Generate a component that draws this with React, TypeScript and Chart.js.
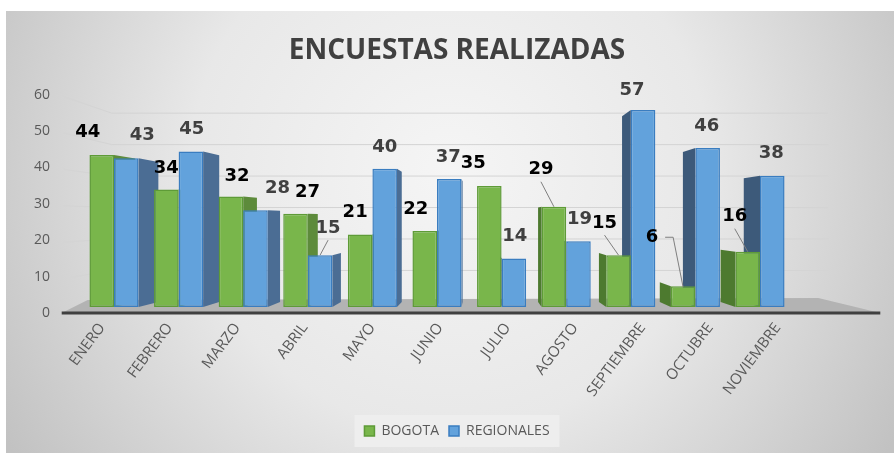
import React, { useEffect, useRef } from "react";
import { Chart, registerables } from "chart.js";

Chart.register(...registerables);

const categories = ["ENERO", "FEBRERO", "MARZO", "ABRIL", "MAYO", "JUNIO", "JULIO", "AGOSTO", "SEPTIEMBRE", "OCTUBRE", "NOVIEMBRE"];
const bogota = [44, 34, 32, 27, 21, 22, 35, 29, 15, 6, 16];
const regionales = [43, 45, 28, 15, 40, 37, 14, 19, 57, 46, 38];
const yTicks = [0, 10, 20, 30, 40, 50, 60];
const seriesNames = ["BOGOTA", "REGIONALES"];
const chartTitle = "ENCUESTAS REALIZADAS";

// data-label placement relative to each bar's top centre (dx, dy)
const bogotaLabelOffsets = [[-14, -23], [0, -21], [6, -20], [12, -21], [-5, -22], [-9, -22], [-16, -23], [-13, -37], [-14, -32], [-31, -49], [-13, -35]];
const regionalesLabelOffsets = [[16, -23], [1, -22], [22, -22], [8, -27], [0, -21], [-1, -22], [1, -22], [1, -22], [-11, -20], [-1, -22], [-1, -22]];
// [datasetIndex, pointIndex] of labels with a leader line
const leaderLines = [[0, 7], [0, 8], [0, 9], [0, 10], [1, 3]];

const UI_FONT = "'Open Sans', sans-serif";
const TITLE_FONT = "'Open Sans', sans-serif";
const LABEL_FONT = "'DejaVu Sans', sans-serif";

export default function App() {
  const ref = useRef<HTMLCanvasElement>(null);

  useEffect(() => {
    const canvas = ref.current!;
    const VPX = 480, VPY = 219, K = 0.058;
    const back = (x: number, y: number) => [x + (VPX - x) * K, y + (VPY - y) * K];

    const bgPlugin = {
      id: "bg3d",
      beforeDraw(chart: any) {
        const ctx = chart.ctx;
        ctx.save();
        const g = ctx.createRadialGradient(450, 170, 0, 450, 170, 520);
        g.addColorStop(0, "#f5f5f5");
        g.addColorStop(0.5, "#e8e8e8");
        g.addColorStop(1, "#c2c2c2");
        ctx.fillStyle = g;
        ctx.fillRect(6, 11, chart.width - 6, chart.height - 11);
        // legend background
        const boxes = chart.legend && chart.legend.legendHitBoxes;
        if (boxes && boxes.length) {
          let x0 = Infinity, x1 = -Infinity, y0 = Infinity, y1 = -Infinity;
          boxes.forEach((b: any) => {
            x0 = Math.min(x0, b.left); x1 = Math.max(x1, b.left + b.width);
            y0 = Math.min(y0, b.top); y1 = Math.max(y1, b.top + b.height);
          });
          ctx.fillStyle = "rgba(238,238,238,0.9)";
          ctx.fillRect(x0 - 10, y0 - 9, x1 - x0 + 20, y1 - y0 + 18);
        }
        ctx.restore();
      },
      beforeDatasetsDraw(chart: any) {
        const ctx = chart.ctx;
        const { left, right, bottom } = chart.chartArea;
        const yS = chart.scales.y;
        const yL = chart.scales.yL;
        const zero = yS.getPixelForValue(0);
        const backFloor = back(left, zero)[1];
        ctx.save();
        // back-wall gridlines
        ctx.strokeStyle = "#d4d4d4";
        ctx.lineWidth = 1;
        yTicks.forEach((v) => {
          if (v === 0) return;
          const yf = yL.getPixelForValue(v);
          const yb = backFloor + (yS.getPixelForValue(v) - zero) * 0.91;
          ctx.beginPath();
          ctx.moveTo(left - 18, yf + 2);
          ctx.lineTo(left + 30, yb);
          ctx.lineTo(right + 36, yb);
          ctx.stroke();
        });
        // floor
        ctx.fillStyle = "#b3b3b3";
        ctx.beginPath();
        ctx.moveTo(left - 20, bottom + 6);
        ctx.lineTo(right + 88, bottom + 6);
        ctx.lineTo(right + 26, backFloor - 4);
        ctx.lineTo(left + 6, backFloor - 2);
        ctx.closePath();
        ctx.fill();
        // axis line
        ctx.strokeStyle = "#404040";
        ctx.lineWidth = 3;
        ctx.beginPath();
        ctx.moveTo(left - 20, bottom + 6);
        ctx.lineTo(right + 88, bottom + 6);
        ctx.stroke();
        // bar side faces
        const sideCols = [["#5d8b3b", "#4d7a2f"], ["#4b6d94", "#3d5a7a"]];
        chart.data.datasets.forEach((_: any, di: number) => {
          const meta = chart.getDatasetMeta(di);
          meta.data.forEach((el: any) => {
            const p = el.getProps(["x", "y", "base", "width"], true);
            const leftSide = p.x > VPX;
            const fe = leftSide ? p.x - p.width / 2 : p.x + p.width / 2;
            const [bx1, by1] = back(fe, p.y);
            const [bx2, by2] = back(fe, p.base);
            ctx.fillStyle = sideCols[di][leftSide ? 1 : 0];
            ctx.beginPath();
            ctx.moveTo(fe, p.y);
            ctx.lineTo(bx1, by1);
            ctx.lineTo(bx2, by2);
            ctx.lineTo(fe, p.base);
            ctx.closePath();
            ctx.fill();
          });
        });
        ctx.restore();
      },
      afterDatasetsDraw(chart: any) {
        const ctx = chart.ctx;
        ctx.save();
        const offs = [bogotaLabelOffsets, regionalesLabelOffsets];
        const cols = ["#000000", "#404040"];
        // leader lines
        ctx.strokeStyle = "#7f7f7f";
        ctx.lineWidth = 1;
        leaderLines.forEach(([di, j]) => {
          const el = chart.getDatasetMeta(di).data[j];
          const lx = el.x + offs[di][j][0];
          const ly = el.y + offs[di][j][1];
          ctx.beginPath();
          if (Math.abs(lx - el.x) > 22) {
            ctx.moveTo(lx + 13, ly);
            ctx.lineTo(lx + 21, ly);
            ctx.lineTo(el.x, el.y + 1);
          } else {
            ctx.moveTo(lx, ly + 12);
            ctx.lineTo(el.x, el.y);
          }
          ctx.stroke();
        });
        ctx.font = `bold 18px ${LABEL_FONT}`;
        ctx.textAlign = "center";
        ctx.textBaseline = "middle";
        chart.data.datasets.forEach((ds: any, di: number) => {
          const meta = chart.getDatasetMeta(di);
          ctx.fillStyle = cols[di];
          meta.data.forEach((el: any, j: number) => {
            ctx.fillText(String(ds.data[j]), el.x + offs[di][j][0], el.y + offs[di][j][1]);
          });
        });
        ctx.restore();
      },
      afterDraw(chart: any) {
        const ctx = chart.ctx;
        const xS = chart.scales.x;
        const { bottom } = chart.chartArea;
        ctx.save();
        ctx.font = `15px ${UI_FONT}`;
        ctx.fillStyle = "#595959";
        ctx.textAlign = "right";
        ctx.textBaseline = "middle";
        categories.forEach((c, i) => {
          const tx = xS.getPixelForValue(i);
          const ex = tx + 3 + (tx - 437) * 0.046;
          ctx.save();
          ctx.translate(ex, bottom + 18);
          ctx.rotate((-53 * Math.PI) / 180);
          ctx.fillText(c, 0, 0);
          ctx.restore();
        });
        ctx.restore();
      },
    };

    const chart = new Chart(canvas, {
      type: "bar",
      data: {
        labels: categories,
        datasets: [
          {
            label: seriesNames[0],
            data: bogota,
            backgroundColor: "#79b64b",
            borderColor: "#5e9b37",
            borderWidth: 1.5,
            borderSkipped: false,
            categoryPercentage: 0.76,
            barPercentage: 1,
          },
          {
            label: seriesNames[1],
            data: regionales,
            backgroundColor: "#62a2dc",
            borderColor: "#3a7dc0",
            borderWidth: 1.5,
            borderSkipped: false,
            categoryPercentage: 0.76,
            barPercentage: 1,
          },
        ],
      },
      options: {
        animation: false,
        responsive: true,
        maintainAspectRatio: false,
        layout: { padding: { left: 20, right: 0, top: 0, bottom: 5 } },
        plugins: {
          title: {
            display: true,
            text: chartTitle,
            color: "#404040",
            font: { family: TITLE_FONT, size: 28, weight: "bold" },
            padding: { top: 34, bottom: 32 },
          },
          legend: {
            position: "bottom",
            labels: {
              boxWidth: 10,
              boxHeight: 10,
              padding: 10,
              color: "#595959",
              font: { family: UI_FONT, size: 14 },
            },
          },
          tooltip: { enabled: false },
        },
        scales: {
          x: {
            type: "category",
            grid: { display: false },
            border: { display: false },
            ticks: { display: false },
            afterFit(s: any) { s.height = 107; },
          },
          y: { display: false, min: 0, max: 60 },
          yL: {
            type: "linear",
            position: "left",
            min: 1.65,
            max: 58.62,
            grid: { display: false, drawTicks: false },
            border: { display: false },
            ticks: { color: "#595959", font: { family: UI_FONT, size: 14 }, padding: 31.7 },
            afterBuildTicks(s: any) { s.ticks = yTicks.map((v) => ({ value: v })); },
            afterFit(s: any) { s.width = 61.7; },
          },
          yR: {
            type: "linear",
            position: "right",
            grid: { display: false },
            border: { display: false },
            ticks: { display: false },
            afterFit(s: any) { s.width = 101.7; },
          },
        },
      } as any,
      plugins: [bgPlugin as any],
    });
    return () => chart.destroy();
  }, []);

  return (
    <div style={{ position: "fixed", left: 0, top: 0, width: 894, height: 453 }}>
      <canvas ref={ref} />
    </div>
  );
}
